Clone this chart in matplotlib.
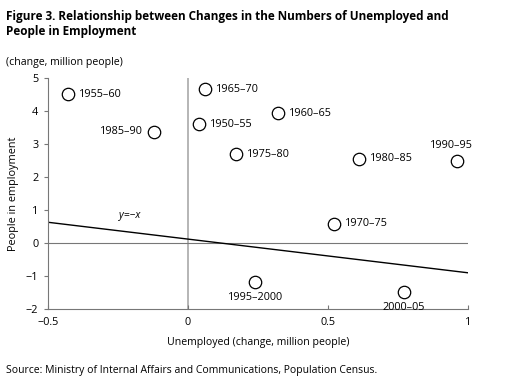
import numpy as np
import matplotlib.pyplot as plt

plt.rcParams['font.family'] = ['Open Sans', 'DejaVu Sans']

periods = ['1955–60', '1985–90', '1965–70', '1950–55', '1975–80', '1960–65',
           '1980–85', '1990–95', '1970–75', '1995–2000', '2000–05']
unemployed = [-0.43, -0.12, 0.06, 0.04, 0.17, 0.32, 0.61, 0.96, 0.52, 0.24, 0.77]
employment = [4.5, 3.37, 4.66, 3.6, 2.69, 3.93, 2.55, 2.48, 0.58, -1.19, -1.49]
# where each label sits relative to its marker
label_pos = ['right', 'left', 'right', 'right', 'right', 'right',
             'right', 'above', 'right', 'below', 'below']

line_x = [-0.5, 1.0]
line_y = [0.63, -0.90]

fig = plt.figure(figsize=(5.12, 3.84), dpi=100)
ax = fig.add_axes([0.09375, 0.195, 0.8203, 0.602])

ax.axvline(0, color='#b0b0b0', lw=1.3, zorder=1)
ax.axhline(0, color='#777777', lw=0.8, zorder=1)
ax.plot(line_x, line_y, color='black', lw=1.0, zorder=2)
ax.text(-0.21, 0.75, 'y=−x', fontsize=7.5, style='italic', ha='center')

ax.scatter(unemployed, employment, s=80, facecolors='white',
           edgecolors='black', linewidths=0.9, zorder=3)

for lab, x, y, pos in zip(periods, unemployed, employment, label_pos):
    if pos == 'right':
        ax.annotate(lab, (x, y), xytext=(8, 0), textcoords='offset points',
                    ha='left', va='center', fontsize=7.8)
    elif pos == 'left':
        ax.annotate(lab, (x, y), xytext=(-8, 0), textcoords='offset points',
                    ha='right', va='center', fontsize=7.8)
    elif pos == 'above':
        ax.annotate(lab, (x, y), xytext=(-4, 7), textcoords='offset points',
                    ha='center', va='bottom', fontsize=7.8)
    else:
        ax.annotate(lab, (x, y), xytext=(0, -7), textcoords='offset points',
                    ha='center', va='top', fontsize=7.8)

ax.set_xlim(-0.5, 1)
ax.set_ylim(-2, 5)
ax.set_xticks([-0.5, 0, 0.5, 1])
ax.set_xticklabels(['−0.5', '0', '0.5', '1'])
ax.set_yticks(range(-2, 6))
ax.set_yticklabels(['−2', '−1', '0', '1', '2', '3', '4', '5'])
ax.tick_params(axis='x', direction='in', length=3, labelsize=7.8, pad=6, color='#777777')
ax.tick_params(axis='y', direction='out', length=3, labelsize=7.8, pad=4, color='#777777')
for s in ['top', 'right']:
    ax.spines[s].set_visible(False)
for s in ['left', 'bottom']:
    ax.spines[s].set_color('#777777')
    ax.spines[s].set_linewidth(0.8)

ax.set_xlabel('Unemployed (change, million people)', fontsize=7.6, labelpad=6)
ax.set_ylabel('People in employment', fontsize=7.8, labelpad=5)

fig.text(0.012, 0.975, 'Figure 3. Relationship between Changes in the Numbers of Unemployed and\nPeople in Employment',
         fontsize=8.5, fontweight='bold', va='top', ha='left', linespacing=1.2)
fig.text(0.012, 0.838, '(change, million people)', fontsize=7.6, va='center', ha='left')
fig.text(0.012, 0.034, 'Source: Ministry of Internal Affairs and Communications, Population Census.',
         fontsize=7.5, va='center', ha='left')

fig.savefig('out.png', dpi=100)
